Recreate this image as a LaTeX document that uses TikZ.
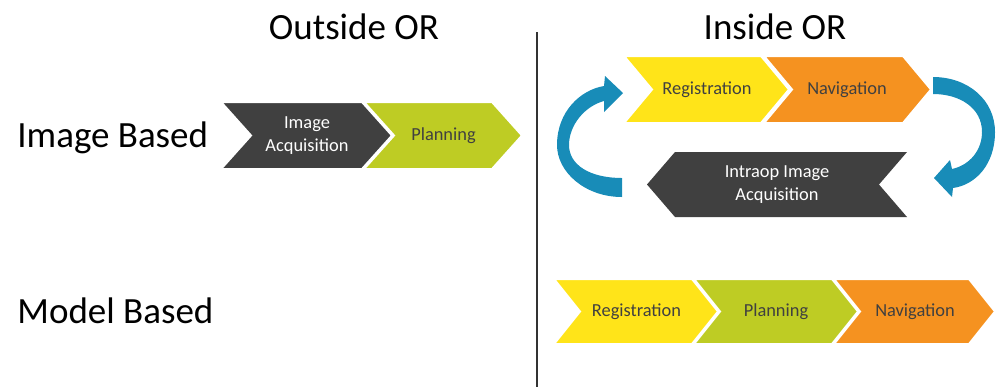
\documentclass[tikz,border=0pt]{standalone}
\usepackage{fontspec}
\setmainfont{Carlito}
\usepackage{tikz}

\definecolor{chevdark}{RGB}{64,64,64}
\definecolor{chevyellow}{RGB}{255,228,25}
\definecolor{chevlime}{RGB}{190,204,36}
\definecolor{chevorange}{RGB}{245,146,32}
\definecolor{loopblue}{RGB}{24,140,184}
\definecolor{textgray}{RGB}{64,64,64}

% right pointing chevron: left x, top y, top length, height, depth, colour
\newcommand{\chevR}[6]{%
  \filldraw[#6, draw=white, line width=1pt] (#1,#2) -- ++(#3,0) -- ++(#5,#4/2) -- ++(-#5,#4/2) -- ++(-#3,0) -- ++(#5,-#4/2) -- cycle;}

\begin{document}
\begin{tikzpicture}[x=0.5pt,y=-0.5pt]
\tikzstyle{every node}=[font=\fontsize{9.2}{11.5}\selectfont]
\tikzstyle{title}=[font=\fontsize{18.5}{22}\selectfont, inner sep=0pt]
\tikzstyle{chevtext}=[text=textgray, align=center, inner sep=0pt]
%\draw [red!40](0,0) grid[step=50] (996,387);
\useasboundingbox (0,0) rectangle (996,387);

% headings and divider
\node[title, anchor=base] (outside) at (354,39) {Outside OR};
\node[title, anchor=base] (inside) at (775,39) {Inside OR};
\node[title, anchor=base west] (imgbased) at (17,147) {Image Based};
\node[title, anchor=base west] (modbased) at (17,323) {Model Based};
\coordinate (divtop) at (537,32);
\coordinate (divbot) at (537,387);
\draw[line width=1.4pt, black!80] (divtop) -- (divbot);

% outside OR, image based
\chevR{221}{102}{141}{67}{30}{chevdark}
\chevR{364}{102}{128}{67}{30}{chevlime}
\node[chevtext, text=white] (acq) at (307,135.5) {Image\\Acquisition};
\node[chevtext] (plan) at (443.5,135.5) {Planning};

% inside OR, image based
\chevR{624}{56}{137}{67}{28}{chevyellow}
\chevR{764}{56}{139}{67}{28}{chevorange}
\node[chevtext] (reg) at (707,89.5) {Registration};
\node[chevtext] (nav) at (847,89.5) {Navigation};
\fill[chevdark] (647,184.5) -- (675,152) -- (907,152) -- (879,184.5) -- (907,217) -- (675,217) -- cycle;
\node[chevtext, text=white] (intraop) at (777,184.5) {Intraop Image\\Acquisition};

% loop arrows
\fill[loopblue] (622,197) .. controls (585,197) and (557,172) .. (557,145)
  .. controls (557,112) and (580,90) .. (604,86) -- (605,76) -- (623,93) -- (604,112) -- (604,101)
  .. controls (585,106) and (569,125) .. (569,145)
  .. controls (569,165) and (590,178) .. (622,178) -- cycle;
\fill[loopblue] (933,77) .. controls (968,77) and (995,100) .. (995,132)
  .. controls (995,165) and (975,185) .. (953,188) -- (952,197) -- (934,178) -- (950,160) -- (952,169)
  .. controls (970,165) and (982,150) .. (982,132)
  .. controls (982,108) and (960,94) .. (933,94) -- cycle;

% inside OR, model based
\chevR{554}{279}{138}{65}{26}{chevyellow}
\chevR{694}{279}{138}{65}{26}{chevlime}
\chevR{834}{279}{135}{65}{26}{chevorange}
\node[chevtext] (reg2) at (636.5,311.5) {Registration};
\node[chevtext] (plan2) at (776,311.5) {Planning};
\node[chevtext] (nav2) at (915,311.5) {Navigation};
\end{tikzpicture}
\end{document}
